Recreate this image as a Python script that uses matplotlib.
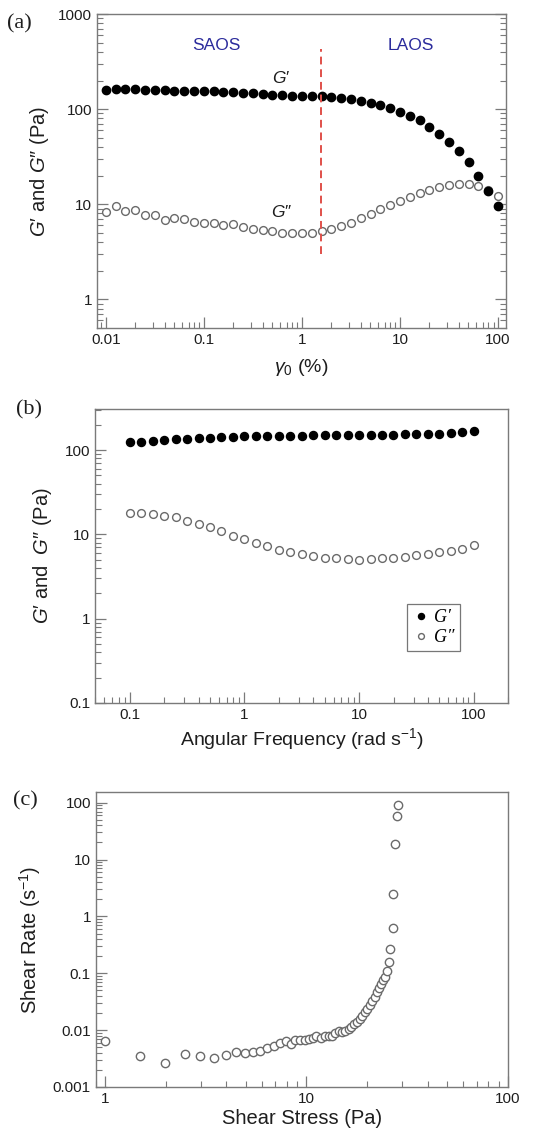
import numpy as np
import matplotlib
matplotlib.use("Agg")
import matplotlib.pyplot as plt
from matplotlib.ticker import LogLocator, NullFormatter, FixedLocator, FixedFormatter

plt.rcParams['font.family'] = ['Liberation Sans', 'DejaVu Sans']
plt.rcParams['mathtext.fontset'] = 'custom'
plt.rcParams['mathtext.rm'] = 'Liberation Sans'
plt.rcParams['mathtext.it'] = 'Liberation Sans:italic'

# (a) strain sweep
strain = np.logspace(-2, 2, 41)
gp_strain = [158, 162, 162, 161, 160, 158, 158, 157, 156, 156, 155, 154, 153, 152, 149,
             147, 145, 142, 140, 139, 138, 137, 136, 133, 130, 127, 122, 116, 110, 103,
             94, 85, 76, 65, 55, 45, 36, 27.5, 19.7, 13.8, 9.6]
gpp_strain = [8.2, 9.5, 8.4, 8.8, 7.7, 7.65, 6.8, 7.1, 7.0, 6.5, 6.4, 6.4, 6.0, 6.2, 5.8,
              5.5, 5.3, 5.2, 5.0, 5.0, 5.0, 5.0, 5.2, 5.5, 5.9, 6.4, 7.1, 7.9, 8.9, 9.8,
              10.7, 11.9, 13.1, 14.0, 15.1, 16.0, 16.5, 16.4, 15.5, 14.0, 12.1]
lve_limit = 1.58

# (b) frequency sweep
freq = np.logspace(-1, 2, 31)
gp_freq = [125, 125, 129, 131, 134, 136, 139, 140, 141, 144, 145, 145, 147, 147, 148,
           148, 149, 149, 150, 150, 152, 153, 153, 153, 154, 155, 156, 157, 159, 162, 170]
gpp_freq = [18.1, 18.0, 17.3, 16.3, 15.9, 14.3, 13.1, 12.1, 11.0, 9.6, 8.8, 8.0, 7.3, 6.6,
            6.2, 5.8, 5.6, 5.2, 5.2, 5.1, 5.0, 5.1, 5.3, 5.3, 5.4, 5.7, 5.8, 6.1, 6.3, 6.8, 7.5]

# (c) flow curve
stress = [1.0, 1.5, 1.98, 2.49, 2.96, 3.48, 3.97, 4.45, 4.95, 5.44, 5.91, 6.41, 6.92, 7.43,
          7.9, 8.36, 8.82, 9.33, 9.8, 10.3, 10.8, 11.2, 11.8, 12.4, 12.9, 13.4, 13.95, 14.5,
          15.1, 15.6, 16.2, 16.7, 17.3, 17.9, 18.4, 19.0, 19.5, 20.1, 20.6, 21.3, 21.8, 22.4,
          22.9, 23.5, 24.0, 24.6, 25.1, 25.6, 26.1, 26.8, 27.0, 27.7, 28.2, 28.5]
shear_rate = [0.0064, 0.0035, 0.0026, 0.0038, 0.0035, 0.0032, 0.0036, 0.0041, 0.0040, 0.0042,
              0.0043, 0.0049, 0.0053, 0.0060, 0.0064, 0.0056, 0.0066, 0.0068, 0.0068, 0.0070,
              0.0074, 0.0080, 0.0074, 0.0080, 0.0078, 0.0080, 0.0089, 0.0095, 0.0093, 0.0095,
              0.0103, 0.0114, 0.0127, 0.0139, 0.016, 0.018, 0.021, 0.024, 0.028, 0.033, 0.038,
              0.046, 0.054, 0.064, 0.075, 0.087, 0.11, 0.158, 0.27, 0.62, 2.5, 18.5, 59, 93]

spine_col = '#7a7a7a'
open_col = '#6a6a6a'
text_col = '#1e1e1e'
serif = ['Liberation Serif', 'DejaVu Serif']


def style_axes(ax, right=False):
    for s in ax.spines.values():
        s.set_color(spine_col)
        s.set_linewidth(1.0)
    ax.tick_params(which='both', direction='in', colors=spine_col, labelcolor=text_col,
                   labelsize=11, top=False, right=right)
    ax.tick_params(which='major', length=8, width=0.9)
    ax.tick_params(which='minor', length=4.5, width=0.8)
    for axis in (ax.xaxis, ax.yaxis):
        axis.set_major_locator(LogLocator(base=10, numticks=20))
        axis.set_minor_locator(LogLocator(base=10, subs=np.arange(2, 10), numticks=20))
        axis.set_minor_formatter(NullFormatter())


def set_log_labels(axis, values, labels):
    axis.set_major_locator(FixedLocator(values))
    axis.set_major_formatter(FixedFormatter(labels))


fig = plt.figure(figsize=(5.35, 11.39), dpi=100)

# ---- (a) ----
ax1 = fig.add_axes([0.181, 0.712, 0.765, 0.2757])
ax1.set_xscale('log')
ax1.set_yscale('log')
style_axes(ax1, right=True)
ax1.plot(strain, gpp_strain, 'o', mfc='white', mec=open_col, mew=1.0, ms=5.6, ls='none')
ax1.plot(strain, gp_strain, 'o', color='black', ms=6.0, ls='none')
ax1.vlines(lve_limit, 3.0, 430, colors='#e0504a', linestyles=(0, (4, 2.5)), lw=1.4)
ax1.set_xlim(0.0081, 121)
ax1.set_ylim(0.5, 1000)
set_log_labels(ax1.xaxis, [0.01, 0.1, 1, 10, 100], ['0.01', '0.1', '1', '10', '100'])
set_log_labels(ax1.yaxis, [1, 10, 100, 1000], ['1', '10', '100', '1000'])
ax1.text(0.135, 470, 'SAOS', color='#2b2b9c', fontsize=12.5, ha='center', va='center')
ax1.text(13, 470, 'LAOS', color='#2b2b9c', fontsize=12.5, ha='center', va='center')
ax1.text(0.62, 210, '$G$′', fontsize=12.5, ha='center', va='center', color=text_col)
ax1.text(0.62, 8.3, '$G$″', fontsize=12.5, ha='center', va='center', color=text_col)
ax1.set_xlabel(r'$\gamma_0$ (%)', fontsize=14, labelpad=7, color=text_col)
ax1.set_ylabel('$G$′ and $G$″ (Pa)', fontsize=14.5, labelpad=5, color=text_col)
fig.text(0.013, 0.979, '(a)', family=serif, fontsize=16, va='center', color=text_col)

# ---- (b) ----
ax2 = fig.add_axes([0.178, 0.3828, 0.772, 0.258])
ax2.set_xscale('log')
ax2.set_yscale('log')
style_axes(ax2)
ax2.plot(freq, gp_freq, 'o', color='black', ms=5.8, ls='none', label='G′')
ax2.plot(freq, gpp_freq, 'o', mfc='white', mec=open_col, mew=1.0, ms=5.6, ls='none',
         label='G″')
ax2.set_xlim(0.05, 200)
ax2.set_ylim(0.1, 306)
set_log_labels(ax2.xaxis, [0.1, 1, 10, 100], ['0.1', '1', '10', '100'])
set_log_labels(ax2.yaxis, [0.1, 1, 10, 100], ['0.1', '1', '10', '100'])
ax2.set_xlabel('Angular Frequency (rad s$^{-1}$)', fontsize=14, labelpad=3, color=text_col)
ax2.set_ylabel('$G$′ and  $G$″ (Pa)', fontsize=14.5, labelpad=8, color=text_col)
leg = ax2.legend(loc='lower right', bbox_to_anchor=(0.905, 0.145), frameon=True,
                 fancybox=False, edgecolor='#555555', handletextpad=0.3,
                 handlelength=0.9, borderpad=0.3, labelspacing=0.15, markerscale=0.75,
                 prop={'family': serif, 'style': 'italic', 'size': 13})
leg.get_frame().set_linewidth(0.9)
fig.text(0.03, 0.64, '(b)', family=serif, fontsize=16, va='center', color=text_col)

# ---- (c) ----
ax3 = fig.add_axes([0.179, 0.0457, 0.770, 0.259])
ax3.set_xscale('log')
ax3.set_yscale('log')
style_axes(ax3)
ax3.plot(stress, shear_rate, 'o', mfc='white', mec=open_col, mew=1.0, ms=6.0, ls='none')
ax3.set_xlim(0.9, 100)
ax3.set_ylim(0.001, 155)
set_log_labels(ax3.xaxis, [1, 10, 100], ['1', '10', '100'])
set_log_labels(ax3.yaxis, [0.001, 0.01, 0.1, 1, 10, 100],
               ['0.001', '0.01', '0.1', '1', '10', '100'])
ax3.set_xlabel('Shear Stress (Pa)', fontsize=14.5, labelpad=2, color=text_col)
ax3.set_ylabel('Shear Rate (s$^{-1}$)', fontsize=14.5, labelpad=7, color=text_col)
fig.text(0.025, 0.297, '(c)', family=serif, fontsize=16, va='center', color=text_col)

fig.savefig('out.png', dpi=100)
